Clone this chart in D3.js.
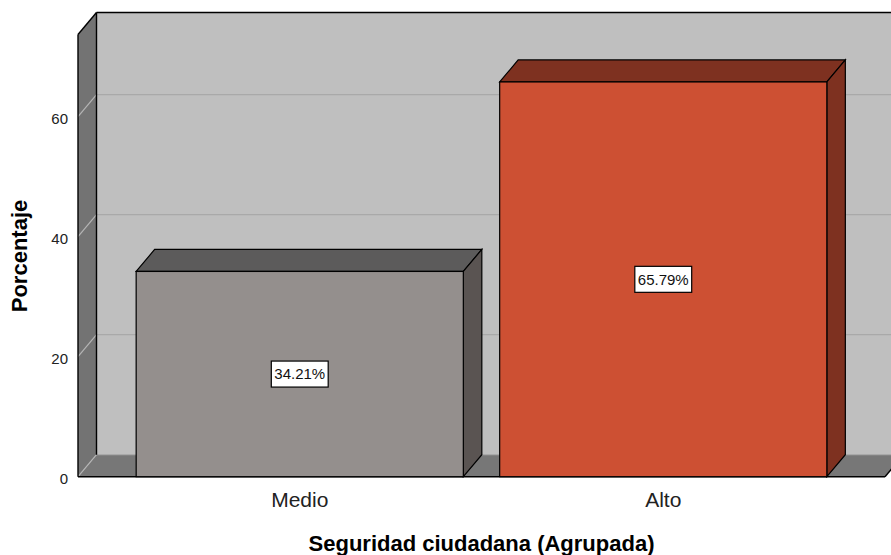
<!DOCTYPE html>
<html lang="es">
<head>
<meta charset="UTF-8">
<title>Seguridad ciudadana (Agrupada)</title>
<script src="https://d3js.org/d3.v7.min.js"></script>
<style>
    body { margin: 0; background: #fff; }
    svg { display: block; font-family: "Liberation Sans", Arial, sans-serif; }
</style>
</head>
<body>
<script>
    // datos
    const categories = ["Medio", "Alto"];
    const percents = [34.21, 65.79];
    const yTicks = [0, 20, 40, 60];
    const frontColors = ["#948f8d", "#cd5033"];
    const topColors = ["#5c5b5b", "#7e3120"];
    const sideColors = ["#5a5452", "#7e3120"];

    const width = 891, height = 555;
    const dx = 18.5, dy = -22;   // profundidad 3D

    const svg = d3.select("body").append("svg")
        .attr("width", width).attr("height", height);

    const x = d3.scaleBand().domain(categories)
        .range([78, 885]).paddingInner(0.1).paddingOuter(0.16);
    const y = d3.scaleLinear().domain([0, 73.7]).range([476.7, 34.5]);

    const x0 = x.range()[0], x1 = x.range()[1];
    const yb = y(0), yt = y(73.7);
    const pts = a => a.map(p => p.join(",")).join(" ");

    // pared del fondo
    svg.append("polygon")
        .attr("points", pts([[x0 + dx, yt + dy], [x1 + dx, yt + dy], [x1 + dx, yb + dy], [x0 + dx, yb + dy]]))
        .attr("fill", "#bfbfbf");
    // pared izquierda
    svg.append("polygon")
        .attr("points", pts([[x0, yb], [x0, yt], [x0 + dx, yt + dy], [x0 + dx, yb + dy]]))
        .attr("fill", "#737373");
    // piso
    svg.append("polygon")
        .attr("points", pts([[x0, yb], [x0 + dx, yb + dy], [x1 + dx, yb + dy], [x1, yb]]))
        .attr("fill", "#777777");

    // lineas de cuadricula
    svg.selectAll(".grid").data(yTicks).enter().append("line")
        .attr("x1", x0 + dx).attr("x2", x1 + dx)
        .attr("y1", d => y(d) + dy).attr("y2", d => y(d) + dy)
        .attr("stroke", "#a9a9a9").attr("stroke-width", 1.2);
    svg.selectAll(".gridside").data(yTicks).enter().append("line")
        .attr("x1", x0).attr("x2", x0 + dx)
        .attr("y1", d => y(d)).attr("y2", d => y(d) + dy)
        .attr("stroke", "#b5b5b5").attr("stroke-width", 1.2);

    // bordes
    const edge = (a, b) => svg.append("line")
        .attr("x1", a[0]).attr("y1", a[1]).attr("x2", b[0]).attr("y2", b[1])
        .attr("stroke", "#000").attr("stroke-width", 1.4);
    edge([x0 + dx, yt + dy], [x1 + dx, yt + dy]);
    edge([x0 + dx, yt + dy], [x0 + dx, yb + dy]);
    edge([x0, yt], [x0 + dx, yt + dy]);
    edge([x0, yt], [x0, yb]);
    edge([x0, yb], [x1, yb]);
    edge([x1, yb], [x1 + dx, yb + dy]);

    // barras
    const bars = svg.selectAll(".bar").data(categories).enter().append("g");
    bars.append("polygon")
        .attr("points", (d, i) => {
            const l = x(d), r = l + x.bandwidth(), t = y(percents[i]);
            return pts([[l, t], [l + dx, t + dy], [r + dx, t + dy], [r, t]]);
        })
        .attr("fill", (d, i) => topColors[i]).attr("stroke", "#000").attr("stroke-width", 1.2);
    bars.append("polygon")
        .attr("points", (d, i) => {
            const r = x(d) + x.bandwidth(), t = y(percents[i]);
            return pts([[r, t], [r + dx, t + dy], [r + dx, yb + dy], [r, yb]]);
        })
        .attr("fill", (d, i) => sideColors[i]).attr("stroke", "#000").attr("stroke-width", 1.2);
    bars.append("rect")
        .attr("x", d => x(d))
        .attr("y", (d, i) => y(percents[i]))
        .attr("width", x.bandwidth())
        .attr("height", (d, i) => yb - y(percents[i]))
        .attr("fill", (d, i) => frontColors[i]).attr("stroke", "#000").attr("stroke-width", 1.2);

    // etiquetas de valor
    bars.each(function (d, i) {
        const g = d3.select(this);
        const cx = x(d) + x.bandwidth() / 2;
        const cy = (y(percents[i]) + yb) / 2;
        const t = g.append("text")
            .attr("x", cx).attr("y", cy).attr("dy", "0.36em")
            .attr("text-anchor", "middle").attr("font-size", 15).attr("fill", "#111")
            .text(percents[i].toFixed(2) + "%");
        const bb = t.node().getBBox();
        g.insert("rect", "text")
            .attr("x", bb.x - 3).attr("y", cy - 13)
            .attr("width", bb.width + 6).attr("height", 26)
            .attr("fill", "#fff").attr("stroke", "#000").attr("stroke-width", 1.2);
    });

    // eje y
    svg.selectAll(".ytick").data(yTicks).enter().append("text")
        .attr("x", 68).attr("y", d => y(d) + 2.5).attr("dy", "0.35em")
        .attr("text-anchor", "end").attr("font-size", 15).attr("fill", "#222")
        .text(d => d);

    // eje x
    svg.selectAll(".xlab").data(categories).enter().append("text")
        .attr("x", d => x(d) + x.bandwidth() / 2).attr("y", 507)
        .attr("text-anchor", "middle").attr("font-size", 21).attr("fill", "#222")
        .text(d => d);

    // titulos de ejes
    svg.append("text")
        .attr("x", (x0 + x1) / 2).attr("y", 551)
        .attr("text-anchor", "middle").attr("font-size", 22).attr("font-weight", "bold")
        .text("Seguridad ciudadana (Agrupada)");
    svg.append("text")
        .attr("transform", "translate(27,256) rotate(-90)")
        .attr("text-anchor", "middle").attr("font-size", 22).attr("font-weight", "bold")
        .text("Porcentaje");
</script>
</body>
</html>
